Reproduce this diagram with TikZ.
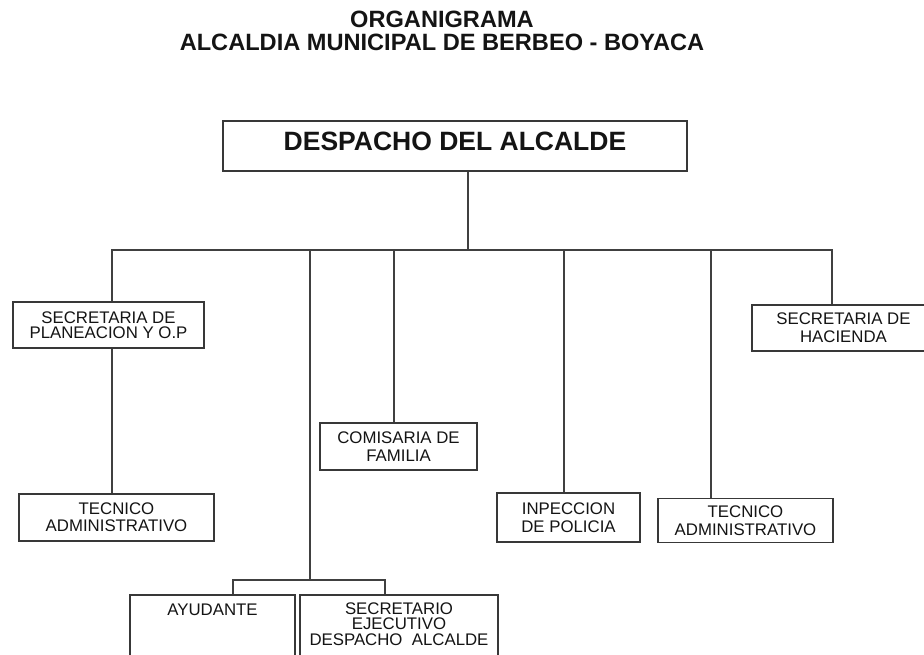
\documentclass[tikz,border=0pt]{standalone}
\usepackage{fontspec}
\setmainfont{Liberation Sans}
\usetikzlibrary{calc}
\begin{document}
\begin{tikzpicture}[x=1pt,y=-1pt,
  box/.style={draw=black!78, line width=1.6pt, fill=white, inner sep=2pt, align=center,
    text=black!92, font=\fontsize{16.8}{17}\selectfont},
  conn/.style={draw=black!75, line width=1.6pt, line join=miter},
  titletext/.style={font=\bfseries\fontsize{23.6}{23}\selectfont, anchor=base, inner sep=0pt, text=black!92},
  plaintext/.style={font=\fontsize{16.8}{15.5}\selectfont, align=center, inner sep=0pt, text=black!92}]
\useasboundingbox (0,0) rectangle (924,654);
\clip (0,0) rectangle (924,654);

% title
\node[titletext] (t1) at (442,27.5) {ORGANIGRAMA};
\node[titletext] (t2) at (442,50.5) {ALCALDIA MUNICIPAL DE BERBEO - BOYACA};

% boxes
\node[box, minimum width=464pt, minimum height=50pt,
  font=\bfseries\fontsize{26.5}{26}\selectfont, text height=19pt, text depth=10pt]
  (desp) at (455,146) {DESPACHO DEL ALCALDE};

\node[box, minimum width=191pt, minimum height=46pt, font=\fontsize{16.8}{15}\selectfont]
  (plan) at (108.5,325) {SECRETARIA DE\\PLANEACION Y O.P};
\node[box, minimum width=195pt, minimum height=47pt]
  (tec1) at (116.5,517.5) {TECNICO\\ADMINISTRATIVO};
\node[box, minimum width=157pt, minimum height=47pt, font=\fontsize{16.8}{17.5}\selectfont]
  (comi) at (398.5,446.5) {COMISARIA DE\\FAMILIA};
\node[box, minimum width=143pt, minimum height=49pt, font=\fontsize{16.8}{18}\selectfont]
  (insp) at (568.5,517.5) {INPECCION\\DE POLICIA};
\node[box, minimum width=175pt, minimum height=44pt, font=\fontsize{16.8}{18}\selectfont]
  (tec2) at (745.5,520.5) {TECNICO\\ADMINISTRATIVO};
\node[box, minimum width=183pt, minimum height=46pt, font=\fontsize{16.8}{18}\selectfont]
  (hac) at (843.5,328) {SECRETARIA DE\\HACIENDA};
\node[box, minimum width=165pt, minimum height=69pt, text height=12pt, text depth=41pt]
  (ayud) at (212.5,629.5) {AYUDANTE};
\node[box, minimum width=198pt, minimum height=69pt]
  (secr) at (399,629.5) {};
\node[plaintext, anchor=north] (secrtext) at ($(secr.north)+(0,8)$)
  {SECRETARIO\\EJECUTIVO\\DESPACHO\ \ ALCALDE};

% connectors
\coordinate (bus) at (468,250);
\coordinate (d1) at (112,250);
\coordinate (d2) at (310,250);
\coordinate (d3) at (394,250);
\coordinate (d4) at (564,250);
\coordinate (d5) at (711,250);
\coordinate (d6) at (832,250);
\coordinate (sub) at (310,580);
\coordinate (subL) at (233,580);
\coordinate (subR) at (385,580);

\draw[conn] (desp.south -| bus) -- (bus);
\draw[conn] (d1 |- plan.north) -- (d1) -- (d6) -- (d6 |- hac.north);
\draw[conn] (d1 |- plan.south) -- (d1 |- tec1.north);
\draw[conn] (d2) -- (sub);
\draw[conn] (d3) -- (d3 |- comi.north);
\draw[conn] (d4) -- (d4 |- insp.north);
\draw[conn] (d5) -- (d5 |- tec2.north);
\draw[conn] (subL |- ayud.north) -- (subL) -- (subR) -- (subR |- secr.north);
\end{tikzpicture}
\end{document}
